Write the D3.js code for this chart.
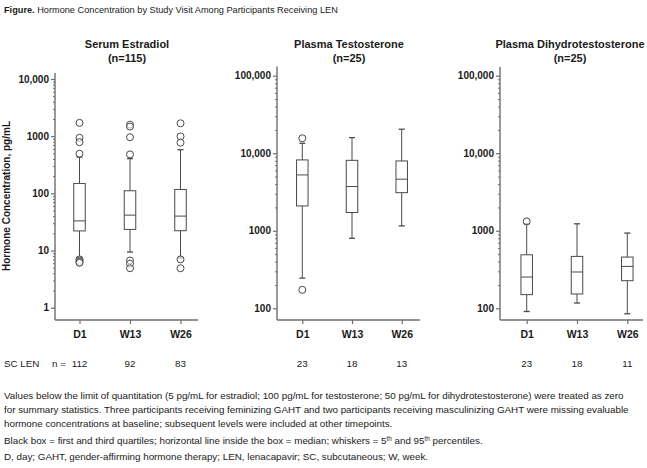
<!DOCTYPE html>
<html>
<head>
<meta charset="utf-8">
<script src="https://cdn.jsdelivr.net/npm/d3@7"></script>
<style>
  body { margin: 0; background: #fff; }
  svg text { font-family: "Liberation Sans", Arial, sans-serif; fill: #1a1a1a; }
</style>
</head>
<body>
<div id="chart"></div>
<script>
// categories
var visits = ["D1", "W13", "W26"];

// serum estradiol (pg/mL)
var estradiolP5 = [7.5, 9.4, 7.4];
var estradiolQ1 = [22, 23.4, 22.2];
var estradiolMed = [33, 41.6, 40];
var estradiolQ3 = [149, 111, 117];
var estradiolP95 = [431, 405, 580];
var estradiolOut = [[1710, 938, 787, 494, 7.0, 6.6, 6.3, 6.1],
                    [1590, 1470, 960, 480, 6.7, 5.9, 4.9],
                    [1680, 990, 770, 7.0, 4.9]];
var estradiolN = [112, 92, 83];

// plasma testosterone (pg/mL)
var testoP5 = [245, 800, 1156];
var testoQ1 = [2090, 1720, 3100];
var testoMed = [5250, 3720, 4630];
var testoQ3 = [8200, 8100, 7950];
var testoP95 = [13450, 15900, 20400];
var testoOut = [[15600, 173], [], []];
var testoN = [23, 18, 13];

// plasma dihydrotestosterone (pg/mL)
var dhtP5 = [91, 117, 85];
var dhtQ1 = [150, 153, 227];
var dhtMed = [253, 294, 347];
var dhtQ3 = [490, 467, 458];
var dhtP95 = [1230, 1230, 934];
var dhtOut = [[1320], [], []];
var dhtN = [23, 18, 11];

// tick values
var ticksEstradiol = [1, 10, 100, 1000, 10000];
var ticksAndro = [100, 1000, 10000, 100000];

var footnotes = [
  "Values below the limit of quantitation (5 pg/mL for estradiol; 100 pg/mL for testosterone; 50 pg/mL for dihydrotestosterone) were treated as zero",
  "for summary statistics. Three participants receiving feminizing GAHT and two participants receiving masculinizing GAHT were missing evaluable",
  "hormone concentrations at baseline; subsequent levels were included at other timepoints.",
  "Black box = first and third quartiles; horizontal line inside the box = median; whiskers = 5",
  "D, day; GAHT, gender-affirming hormone therapy; LEN, lenacapavir; SC, subcutaneous; W, week."
];

var width = 647, height = 468;
var boxColor = "#4a4a4a", axisColor = "#6e6e6e";

var svg = d3.select("#chart")
  .append("svg")
    .attr("width", width)
    .attr("height", height);

// figure title
var title = svg.append("text")
  .attr("x", 4).attr("y", 13)
  .style("font-size", "9.2px");
title.append("tspan").style("font-weight", "bold").text("Figure.");
title.append("tspan").text(" Hormone Concentration by Study Visit Among Participants Receiving LEN");

function build(series, i) {
  var panel = svg.append("g");

  var y = d3.scaleLog()
    .domain(series.domain)
    .range(series.yRange);

  var x = d3.scalePoint()
    .domain(visits)
    .range(series.xRange);

  // axis lines
  panel.append("line")
    .attr("x1", series.axisX).attr("x2", series.axisX)
    .attr("y1", series.axisTop).attr("y2", 320)
    .attr("stroke", axisColor).attr("stroke-width", 1.4);
  panel.append("line")
    .attr("x1", series.axisX).attr("x2", series.axisEnd)
    .attr("y1", 320).attr("y2", 320)
    .attr("stroke", axisColor).attr("stroke-width", 1.4);

  // minor ticks
  var lo = Math.log10(series.ticks[0]), hi = Math.log10(series.ticks[series.ticks.length - 1]);
  var minor = [];
  for (var e = lo; e < hi; e++) {
    for (var m = 2; m <= 9; m++) minor.push(m * Math.pow(10, e));
  }
  panel.append("g")
    .attr("transform", "translate(" + series.axisX + ",0)")
    .call(d3.axisLeft(y).tickValues(minor).tickSize(2).tickFormat(""))
    .call(function(g) { g.select(".domain").remove(); })
    .selectAll("line").attr("stroke", axisColor);

  // major ticks + labels
  var yAxis = panel.append("g")
    .attr("transform", "translate(" + series.axisX + ",0)")
    .call(d3.axisLeft(y).tickValues(series.ticks).tickSize(4).tickPadding(2)
      .tickFormat(function(d) { return d >= 10000 ? d3.format(",")(d) : d; }));
  yAxis.select(".domain").remove();
  yAxis.selectAll("line").attr("stroke", axisColor).attr("stroke-width", 1.2);
  yAxis.selectAll("text")
    .style("font-size", "10px").style("font-weight", "bold")
    .style("font-family", "'Liberation Sans', Arial, sans-serif").attr("fill", "#1a1a1a");

  // x axis
  var xAxis = panel.append("g")
    .attr("transform", "translate(0,320)")
    .call(d3.axisBottom(x).tickSize(4).tickPadding(7));
  xAxis.select(".domain").remove();
  xAxis.selectAll("line").attr("stroke", axisColor).attr("stroke-width", 1.2);
  xAxis.selectAll("text")
    .style("font-size", "10.5px").style("font-weight", "bold")
    .style("font-family", "'Liberation Sans', Arial, sans-serif").attr("fill", "#1a1a1a");

  // panel titles
  panel.append("text")
    .attr("x", series.titleX).attr("y", 48)
    .attr("text-anchor", "middle")
    .style("font-size", "11px").style("font-weight", "bold")
    .text(series.name);
  panel.append("text")
    .attr("x", series.titleX).attr("y", 62)
    .attr("text-anchor", "middle")
    .style("font-size", "11px").style("font-weight", "bold")
    .text(series.sub);

  // boxes
  var boxW = 11.5, capW = 6;
  var rows = visits.map(function(v, k) {
    return { v: v, p5: series.p5[k], q1: series.q1[k], med: series.med[k],
             q3: series.q3[k], p95: series.p95[k], out: series.out[k] };
  });
  var g = panel.selectAll(".box" + i)
    .data(rows)
    .enter()
    .append("g")
      .attr("class", "box" + i);

  g.append("line")
    .attr("x1", function(d) { return x(d.v); }).attr("x2", function(d) { return x(d.v); })
    .attr("y1", function(d) { return y(d.q3); }).attr("y2", function(d) { return y(d.p95); })
    .attr("stroke", boxColor);
  g.append("line")
    .attr("x1", function(d) { return x(d.v); }).attr("x2", function(d) { return x(d.v); })
    .attr("y1", function(d) { return y(d.q1); }).attr("y2", function(d) { return y(d.p5); })
    .attr("stroke", boxColor);
  ["p5", "p95"].forEach(function(key) {
    g.append("line")
      .attr("x1", function(d) { return x(d.v) - capW / 2; })
      .attr("x2", function(d) { return x(d.v) + capW / 2; })
      .attr("y1", function(d) { return y(d[key]); }).attr("y2", function(d) { return y(d[key]); })
      .attr("stroke", boxColor).attr("stroke-width", 1.3);
  });
  g.append("rect")
    .attr("x", function(d) { return x(d.v) - boxW / 2; })
    .attr("width", boxW)
    .attr("y", function(d) { return y(d.q3); })
    .attr("height", function(d) { return y(d.q1) - y(d.q3); })
    .attr("fill", "none").attr("stroke", boxColor);
  g.append("line")
    .attr("x1", function(d) { return x(d.v) - boxW / 2; })
    .attr("x2", function(d) { return x(d.v) + boxW / 2; })
    .attr("y1", function(d) { return y(d.med); }).attr("y2", function(d) { return y(d.med); })
    .attr("stroke", boxColor);

  // outliers
  g.selectAll("circle")
    .data(function(d) { return d.out.map(function(o) { return { v: d.v, o: o }; }); })
    .enter()
    .append("circle")
      .attr("cx", function(d) { return x(d.v); })
      .attr("cy", function(d) { return y(d.o); })
      .attr("r", 3.5)
      .attr("fill", "#fff").attr("fill-opacity", 0.6)
      .attr("stroke", boxColor).attr("stroke-width", 1);

  // n row
  panel.selectAll(".n" + i)
    .data(series.n)
    .enter()
    .append("text")
      .attr("x", function(d, k) { return x(visits[k]); })
      .attr("y", 367)
      .attr("text-anchor", "middle")
      .style("font-size", "9.8px")
      .text(function(d) { return d; });
}

build({ name: "Serum Estradiol", sub: "(n=115)", titleX: 127,
        domain: [1, 10000], yRange: [307.7, 79], ticks: ticksEstradiol,
        axisX: 55, axisTop: 73, axisEnd: 198, xRange: [79.5, 180.5],
        p5: estradiolP5, q1: estradiolQ1, med: estradiolMed, q3: estradiolQ3,
        p95: estradiolP95, out: estradiolOut, n: estradiolN }, 0);
build({ name: "Plasma Testosterone", sub: "(n=25)", titleX: 349,
        domain: [100, 100000], yRange: [308.3, 75.7], ticks: ticksAndro,
        axisX: 277, axisTop: 66.5, axisEnd: 420, xRange: [302.3, 401.7],
        p5: testoP5, q1: testoQ1, med: testoMed, q3: testoQ3,
        p95: testoP95, out: testoOut, n: testoN }, 1);
build({ name: "Plasma Dihydrotestosterone", sub: "(n=25)", titleX: 570,
        domain: [100, 100000], yRange: [308.3, 75.7], ticks: ticksAndro,
        axisX: 500, axisTop: 67, axisEnd: 643, xRange: [526.7, 627.3],
        p5: dhtP5, q1: dhtQ1, med: dhtMed, q3: dhtQ3,
        p95: dhtP95, out: dhtOut, n: dhtN }, 2);

// y axis title
svg.append("text")
  .attr("transform", "translate(10,196) rotate(-90)")
  .attr("text-anchor", "middle")
  .style("font-size", "10px").style("font-weight", "bold")
  .text("Hormone Concentration, pg/mL");

// n row labels
svg.append("text").attr("x", 4).attr("y", 367).style("font-size", "9.8px").text("SC LEN");
svg.append("text").attr("x", 52).attr("y", 367).style("font-size", "9.8px").text("n =");

// footnotes
var lineY = [399, 413, 427, 444, 460];
footnotes.forEach(function(t, k) {
  var txt = svg.append("text")
    .attr("x", 4).attr("y", lineY[k])
    .style("font-size", "9.8px")
    .text(t);
  if (k === 3) {
    txt.append("tspan").attr("dy", -3).style("font-size", "6.3px").text("th");
    txt.append("tspan").attr("dy", 3).text(" and 95");
    txt.append("tspan").attr("dy", -3).style("font-size", "6.3px").text("th");
    txt.append("tspan").attr("dy", 3).text(" percentiles.");
  }
});
</script>
</body>
</html>
